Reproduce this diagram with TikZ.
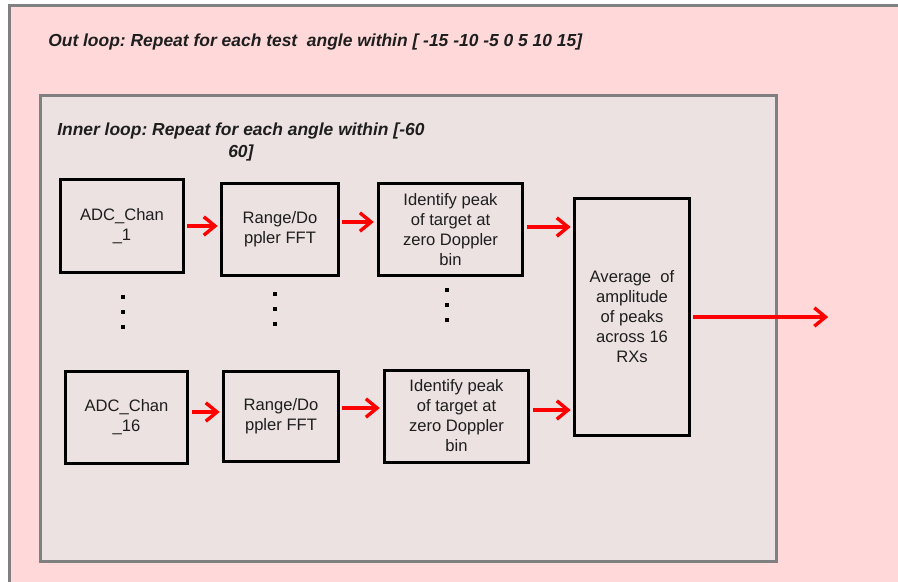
\documentclass[tikz,border=0pt]{standalone}
\usepackage{fontspec}
\setmainfont{Liberation Sans}
\usetikzlibrary{arrows.meta}
\frenchspacing

\definecolor{outerpink}{RGB}{255,217,217}
\definecolor{innergray}{RGB}{237,226,226}
\definecolor{framegray}{RGB}{128,128,128}
\definecolor{txtdark}{RGB}{30,30,30}

\tikzset{
  loopframe/.style={draw=framegray, line width=0.075cm},
  procbox/.style={draw=black, line width=0.075cm, align=center, inner sep=0pt,
    text=txtdark, font=\fontsize{11.8}{14.2}\selectfont},
  flow/.style={draw=red, line width=0.085cm, shorten <=2pt, shorten >=2pt,
    -{Straight Barb[length=0.28cm, width=0.46cm, line width=0.085cm]}},
  looptitle/.style={font=\fontsize{12.4}{15.2}\selectfont\bfseries\itshape, text=txtdark, inner sep=0pt},
  dotmark/.style={fill=black}
}

\begin{document}
\begin{tikzpicture}[x=0.025cm, y=-0.025cm]

    \useasboundingbox (0,0) rectangle (898,581);

    % loops
    \draw [loopframe, fill=outerpink] (9.5,5.5) rectangle (910,595);
    \draw [loopframe, fill=innergray] (40.5,95) rectangle (776.5,561.5);

    \node [looptitle, anchor=west] (outtitle) at (48,42)
        {Out loop: Repeat for each test\ \ angle within [ -15 -10 -5 0 5 10 15]};
    \node [looptitle, align=center, anchor=north west] (intitle) at (57,123)
        {Inner loop: Repeat for each angle within [-60\\60]};

    % channel 1
    \node [procbox, minimum width=3.05cm, minimum height=2.3cm] (adcA) at (122,226) {ADC\_Chan\\\_1};
    \node [procbox, minimum width=2.9cm, minimum height=2.32cm] (fftA) at (280,229.5) {Range/Do\\ppler FFT};
    \node [procbox, minimum width=3.62cm, minimum height=2.32cm] (peakA) at (450.5,229.5) {Identify peak\\of target at\\zero Doppler\\bin};

    % channel 16
    \node [procbox, minimum width=3.07cm, minimum height=2.3cm] (adcB) at (126.5,417) {ADC\_Chan\\\_16};
    \node [procbox, minimum width=2.85cm, minimum height=2.27cm] (fftB) at (281,416.5) {Range/Do\\ppler FFT};
    \node [procbox, minimum width=3.62cm, minimum height=2.3cm] (peakB) at (456.5,416) {Identify peak\\of target at\\zero Doppler\\bin};

    % combine
    \node [procbox, minimum width=2.85cm, minimum height=5.9cm] (avg) at (632,317) {Average\ \ of\\amplitude\\of peaks\\across 16\\RXs};
    \coordinate (out) at (831,317);

    % vertical dots
    \foreach \x/\y in {123/297, 275/294, 447/290} {
        \foreach \k in {0,1,2} {
            \fill [dotmark] (\x-2,\y+\k*15-2) rectangle (\x+2,\y+\k*15+2);
        }
    }

    \draw [flow] (adcA) -- (adcA -| fftA.west);
    \draw [flow] (fftA.east |- 0,222) -- (peakA.west |- 0,222);
    \draw [flow] (peakA.east |- 0,227) -- (avg.west |- 0,227);

    \draw [flow] (adcB.east |- 0,412) -- (fftB.west |- 0,412);
    \draw [flow] (fftB.east |- 0,408) -- (peakB.west |- 0,408);
    \draw [flow] (peakB.east |- 0,410) -- (avg.west |- 0,410);

    \draw [flow] (avg) -- (out);

\end{tikzpicture}
\end{document}
